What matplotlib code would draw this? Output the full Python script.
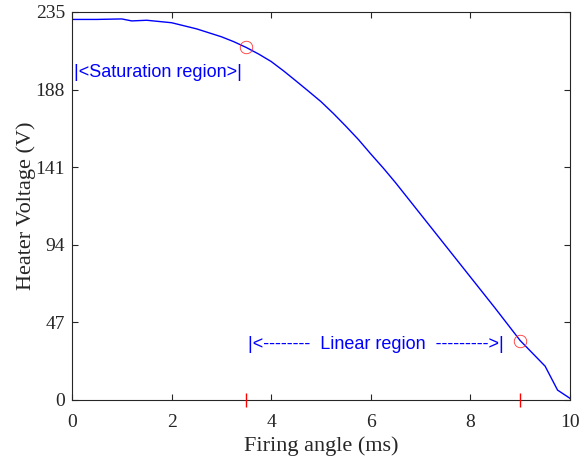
import matplotlib
matplotlib.use("Agg")
import matplotlib.pyplot as plt

firing_angle = [0.0, 0.5, 1.0, 1.2, 1.5, 2.0, 2.5, 3.0, 3.25, 3.5, 3.75, 4.0, 4.25,
                4.5, 4.75, 5.0, 5.25, 5.5, 5.75, 6.0, 6.25, 6.5, 7.0, 7.5, 8.0,
                8.5, 9.0, 9.5, 9.75, 10.0]
heater_voltage = [230.5, 230.5, 230.8, 229.6, 230.0, 228.5, 224.8, 220.0, 217.0,
                  213.5, 209.5, 205.0, 199.3, 193.2, 187.0, 180.7, 173.5, 165.8,
                  157.8, 149.0, 140.5, 131.5, 112.5, 93.5, 74.5, 55.5, 36.0, 20.5,
                  6.0, 1.0]
region_x = [3.5, 9.0]
region_y = [213.5, 36.0]
x_ticks = [0, 2, 4, 6, 8, 10]
y_ticks = [0, 47, 94, 141, 188, 235]

fig = plt.figure(figsize=(5.81, 4.62), dpi=100)
ax = fig.add_axes([72/581, 62/462, 498/581, 388/462])

ax.plot(firing_angle, heater_voltage, color="#0000ff", lw=1.0)
ax.plot(region_x, region_y, "o", mfc="none", mec="#ff3333", ms=9, mew=0.6)
ax.plot(region_x, [0, 0], "|", color="red", ms=10, mew=1.0, clip_on=False, zorder=5)

ax.set_xlim(0, 10)
ax.set_ylim(0, 235)
ax.set_xticks(x_ticks)
ax.set_yticks(y_ticks)

serif = ["Liberation Serif", "DejaVu Serif"]
ax.tick_params(direction="in", top=True, right=True, length=4, width=0.8,
               color="#262626", labelsize=14, pad=5)
ax.tick_params(axis="x", pad=10)
for lab in ax.get_xticklabels() + ax.get_yticklabels():
    lab.set_family(serif)
    lab.set_color("#262626")
for s in ax.spines.values():
    s.set_color("#262626")
    s.set_linewidth(0.8)

ax.set_xlabel("Firing angle (ms)", family=serif, fontsize=16, color="#262626", labelpad=4)
ax.set_ylabel("Heater Voltage (V)", family=serif, fontsize=16, color="#262626", labelpad=0)

sans = ["Liberation Sans", "DejaVu Sans"]
ax.text(0.04, 198.5, "|<Saturation region>|", color="#0000ff", family=sans,
        fontsize=13, va="center", ha="left")
ax.text(3.53, 33.5, "|<--------  Linear region  --------->|", color="#0000ff",
        family=sans, fontsize=13, va="center", ha="left")

fig.savefig("out.png", dpi=100)
